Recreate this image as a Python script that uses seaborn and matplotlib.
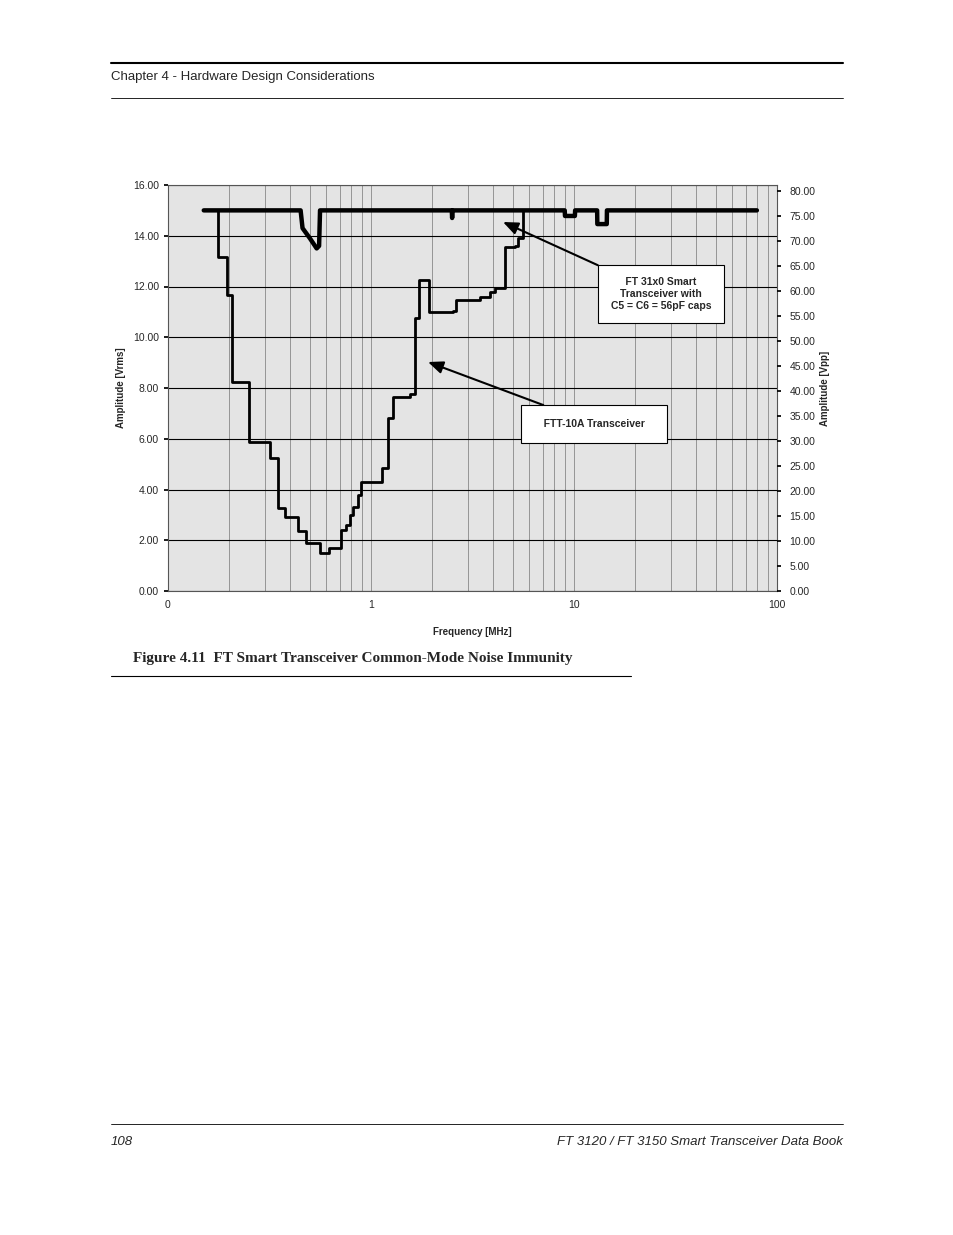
import pandas as pd
import matplotlib.pyplot as plt
import seaborn as sns
from matplotlib.ticker import FixedLocator, LogLocator, NullFormatter

# FTT-10A (stepped curve), frequency in MHz, amplitude in Vrms
ftt_freq = [0.170, 0.176, 0.195, 0.207, 0.250, 0.318, 0.348, 0.377, 0.437, 0.478,
            0.561, 0.621, 0.711, 0.753, 0.788, 0.815, 0.863, 0.893, 1.13, 1.21,
            1.28, 1.56, 1.65, 1.72, 1.93, 2.53, 2.62, 3.44, 3.86, 4.08,
            4.57, 5.12, 5.30, 5.61, 5.80]
ftt_amp = [15.0, 13.15, 11.67, 8.24, 5.87, 5.24, 3.27, 2.92, 2.36, 1.89,
           1.50, 1.69, 2.40, 2.60, 3.00, 3.30, 3.78, 4.30, 4.85, 6.80,
           7.65, 7.75, 10.76, 12.25, 11.00, 11.05, 11.47, 11.60, 11.80, 11.93,
           13.55, 13.60, 13.90, 15.0, 15.0]

# FT 31x0 with 56pF caps (thick curve)
ft_freq = [0.150, 0.450, 0.460, 0.500, 0.540, 0.555, 0.561, 2.50, 2.51, 2.52,
           9.00, 9.03, 10.1, 10.13, 13.0, 13.03, 14.5, 14.53, 79.6]
ft_amp = [15.0, 15.0, 14.3, 13.9, 13.5, 13.6, 15.0, 15.0, 14.7, 15.0,
          15.0, 14.78, 14.78, 15.0, 15.0, 14.46, 14.46, 15.0, 15.0]

df_ftt = pd.DataFrame({'f': ftt_freq, 'a': ftt_amp})
df_ft = pd.DataFrame({'f': ft_freq, 'a': ft_amp})

sns.set_theme(style="white")
plt.rcParams['font.family'] = ['Liberation Sans', 'DejaVu Sans']

W, H = 954, 1235
fig = plt.figure(figsize=(W / 100, H / 100), dpi=100)

def fx(px):
    return px / W

def fy(py):
    return 1 - py / H

# page header / footer
fig.add_artist(plt.Line2D([fx(111), fx(843)], [fy(63), fy(63)], color='black', lw=1.5))
fig.add_artist(plt.Line2D([fx(111), fx(843)], [fy(98), fy(98)], color='black', lw=0.6))
fig.text(fx(111), fy(77), "Chapter 4 - Hardware Design Considerations", fontsize=9.5, va='center')
fig.add_artist(plt.Line2D([fx(111), fx(843)], [fy(1124), fy(1124)], color='black', lw=0.6))
fig.text(fx(111), fy(1142), "108", fontsize=9.5, style='italic', va='center')
fig.text(fx(843), fy(1142), "FT 3120 / FT 3150 Smart Transceiver Data Book", fontsize=9.5,
         style='italic', va='center', ha='right')
fig.text(fx(133), fy(659), "Figure 4.11  FT Smart Transceiver Common-Mode Noise Immunity",
         fontsize=11, fontweight='bold', family='Liberation Serif', va='center')
fig.add_artist(plt.Line2D([fx(111), fx(631)], [fy(676), fy(676)], color='black', lw=0.8))

ax = fig.add_axes([fx(168), fy(591), (777 - 168) / W, (591 - 185) / H])
ax.set_facecolor('#e4e4e4')
ax.set_xscale('log')
ax.set_xlim(0.1, 100)
ax.set_ylim(0, 16)

sns.lineplot(data=df_ftt, x='f', y='a', ax=ax, color='black', lw=2.0,
             drawstyle='steps-post', estimator=None, sort=False)
sns.lineplot(data=df_ft, x='f', y='a', ax=ax, color='black', lw=3.2,
             estimator=None, sort=False)

ax.xaxis.set_major_locator(FixedLocator([0.1, 1, 10, 100]))
ax.set_xticklabels(['0', '1', '10', '100'], fontsize=7.5)
ax.xaxis.set_minor_locator(LogLocator(base=10, subs=range(2, 10)))
ax.xaxis.set_minor_formatter(NullFormatter())
ax.set_yticks([0, 2, 4, 6, 8, 10, 12, 14, 16])
ax.set_yticklabels([f"{v:.2f}" for v in range(0, 17, 2)], fontsize=7.5)
ax.grid(True, which='both', axis='x', color='#888888', lw=0.6)
ax.grid(True, which='major', axis='y', color='black', lw=0.8)
ax.tick_params(axis='both', which='major', length=3, color='black')
ax.tick_params(axis='x', which='minor', length=0)
for s in ax.spines.values():
    s.set_color('#555555')
    s.set_linewidth(0.8)
ax.set_xlabel("Frequency [MHz]", fontsize=7, fontweight='bold', labelpad=12)
ax.set_ylabel("Amplitude [Vrms]", fontsize=7, fontweight='bold', labelpad=5)

ax2 = ax.twinx()
ax2.set_ylim(0, 16 * 5.0 * 406 / 400)
ax2.set_yticks([i * 5 for i in range(17)])
ax2.set_yticklabels([f"{i * 5:.2f}" for i in range(17)], fontsize=7.5)
ax2.tick_params(axis='y', length=3, color='black', pad=6)
ax2.set_ylabel("Amplitude [Vpp]", fontsize=7, fontweight='bold', labelpad=3)
for s in ax2.spines.values():
    s.set_visible(False)

# annotation boxes with arrows
def to_data(px, py):
    f = 0.1 * 10 ** ((px - 168) / 203)
    a = (591 - py) / 406 * 16
    return f, a

arrow = dict(arrowstyle='-|>,head_length=1.2,head_width=0.5',
             color='black', lw=1.5, shrinkA=0, shrinkB=0)
ax.annotate("     FT 31x0 Smart     \nTransceiver with\nC5 = C6 = 56pF caps",
            xy=to_data(503, 222), xytext=to_data(661, 294),
            ha='center', va='center', fontsize=7.5, fontweight='bold',
            bbox=dict(boxstyle='square,pad=1.2', fc='white', ec='black', lw=0.8),
            arrowprops=arrow)
ax.annotate("   FTT-10A Transceiver   ",
            xy=to_data(428, 362), xytext=to_data(594, 424),
            ha='center', va='center', fontsize=7.5, fontweight='bold',
            bbox=dict(boxstyle='square,pad=1.3', fc='white', ec='black', lw=0.8),
            arrowprops=arrow)

fig.savefig("out.png", dpi=100, facecolor='white')
